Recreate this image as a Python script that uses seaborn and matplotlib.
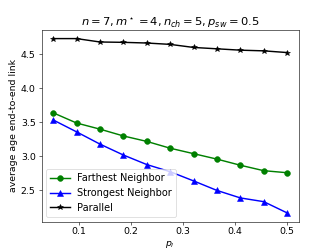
import numpy as np
import pandas as pd
import matplotlib
matplotlib.use("Agg")
import matplotlib.pyplot as plt
import seaborn as sns

# values
p_l = [0.05, 0.095, 0.14, 0.185, 0.23, 0.275, 0.32, 0.365, 0.41, 0.455, 0.5]
farthest = [3.64, 3.49, 3.40, 3.30, 3.22, 3.12, 3.04, 2.96, 2.87, 2.79, 2.76]
strongest = [3.535, 3.36, 3.18, 3.02, 2.88, 2.775, 2.64, 2.50, 2.39, 2.335, 2.17]
parallel = [4.73, 4.73, 4.68, 4.675, 4.665, 4.645, 4.60, 4.58, 4.56, 4.55, 4.525]

series = [
    ("Farthest Neighbor", farthest, "green", "o"),
    ("Strongest Neighbor", strongest, "blue", "^"),
    ("Parallel", parallel, "black", "*"),
]

plt.rcParams.update({"xtick.labelsize": 13, "ytick.labelsize": 13,
                     "xtick.major.size": 4.5, "ytick.major.size": 4.5})

fig, ax = plt.subplots(figsize=(6.4, 4.8), dpi=51.875)
for name, vals, color, marker in series:
    df = pd.DataFrame({"p": p_l, "age": vals})
    sns.lineplot(data=df, x="p", y="age", ax=ax, color=color, marker=marker,
                 markeredgecolor=color, markersize=8, linewidth=2, label=name)

ax.set_title(r"$n=7, m^\star=4, n_{ch}=5, p_{sw}=0.5$", fontsize=16)
ax.set_xlabel(r"$p_l$", fontsize=13)
ax.set_ylabel("average age end-to-end link", fontsize=13)
ax.set_xticks([0.1, 0.2, 0.3, 0.4, 0.5])
ax.set_yticks([2.5, 3.0, 3.5, 4.0, 4.5])
ax.legend(loc="lower left", fontsize=13.5)
fig.savefig("out.png", dpi=51.875)
